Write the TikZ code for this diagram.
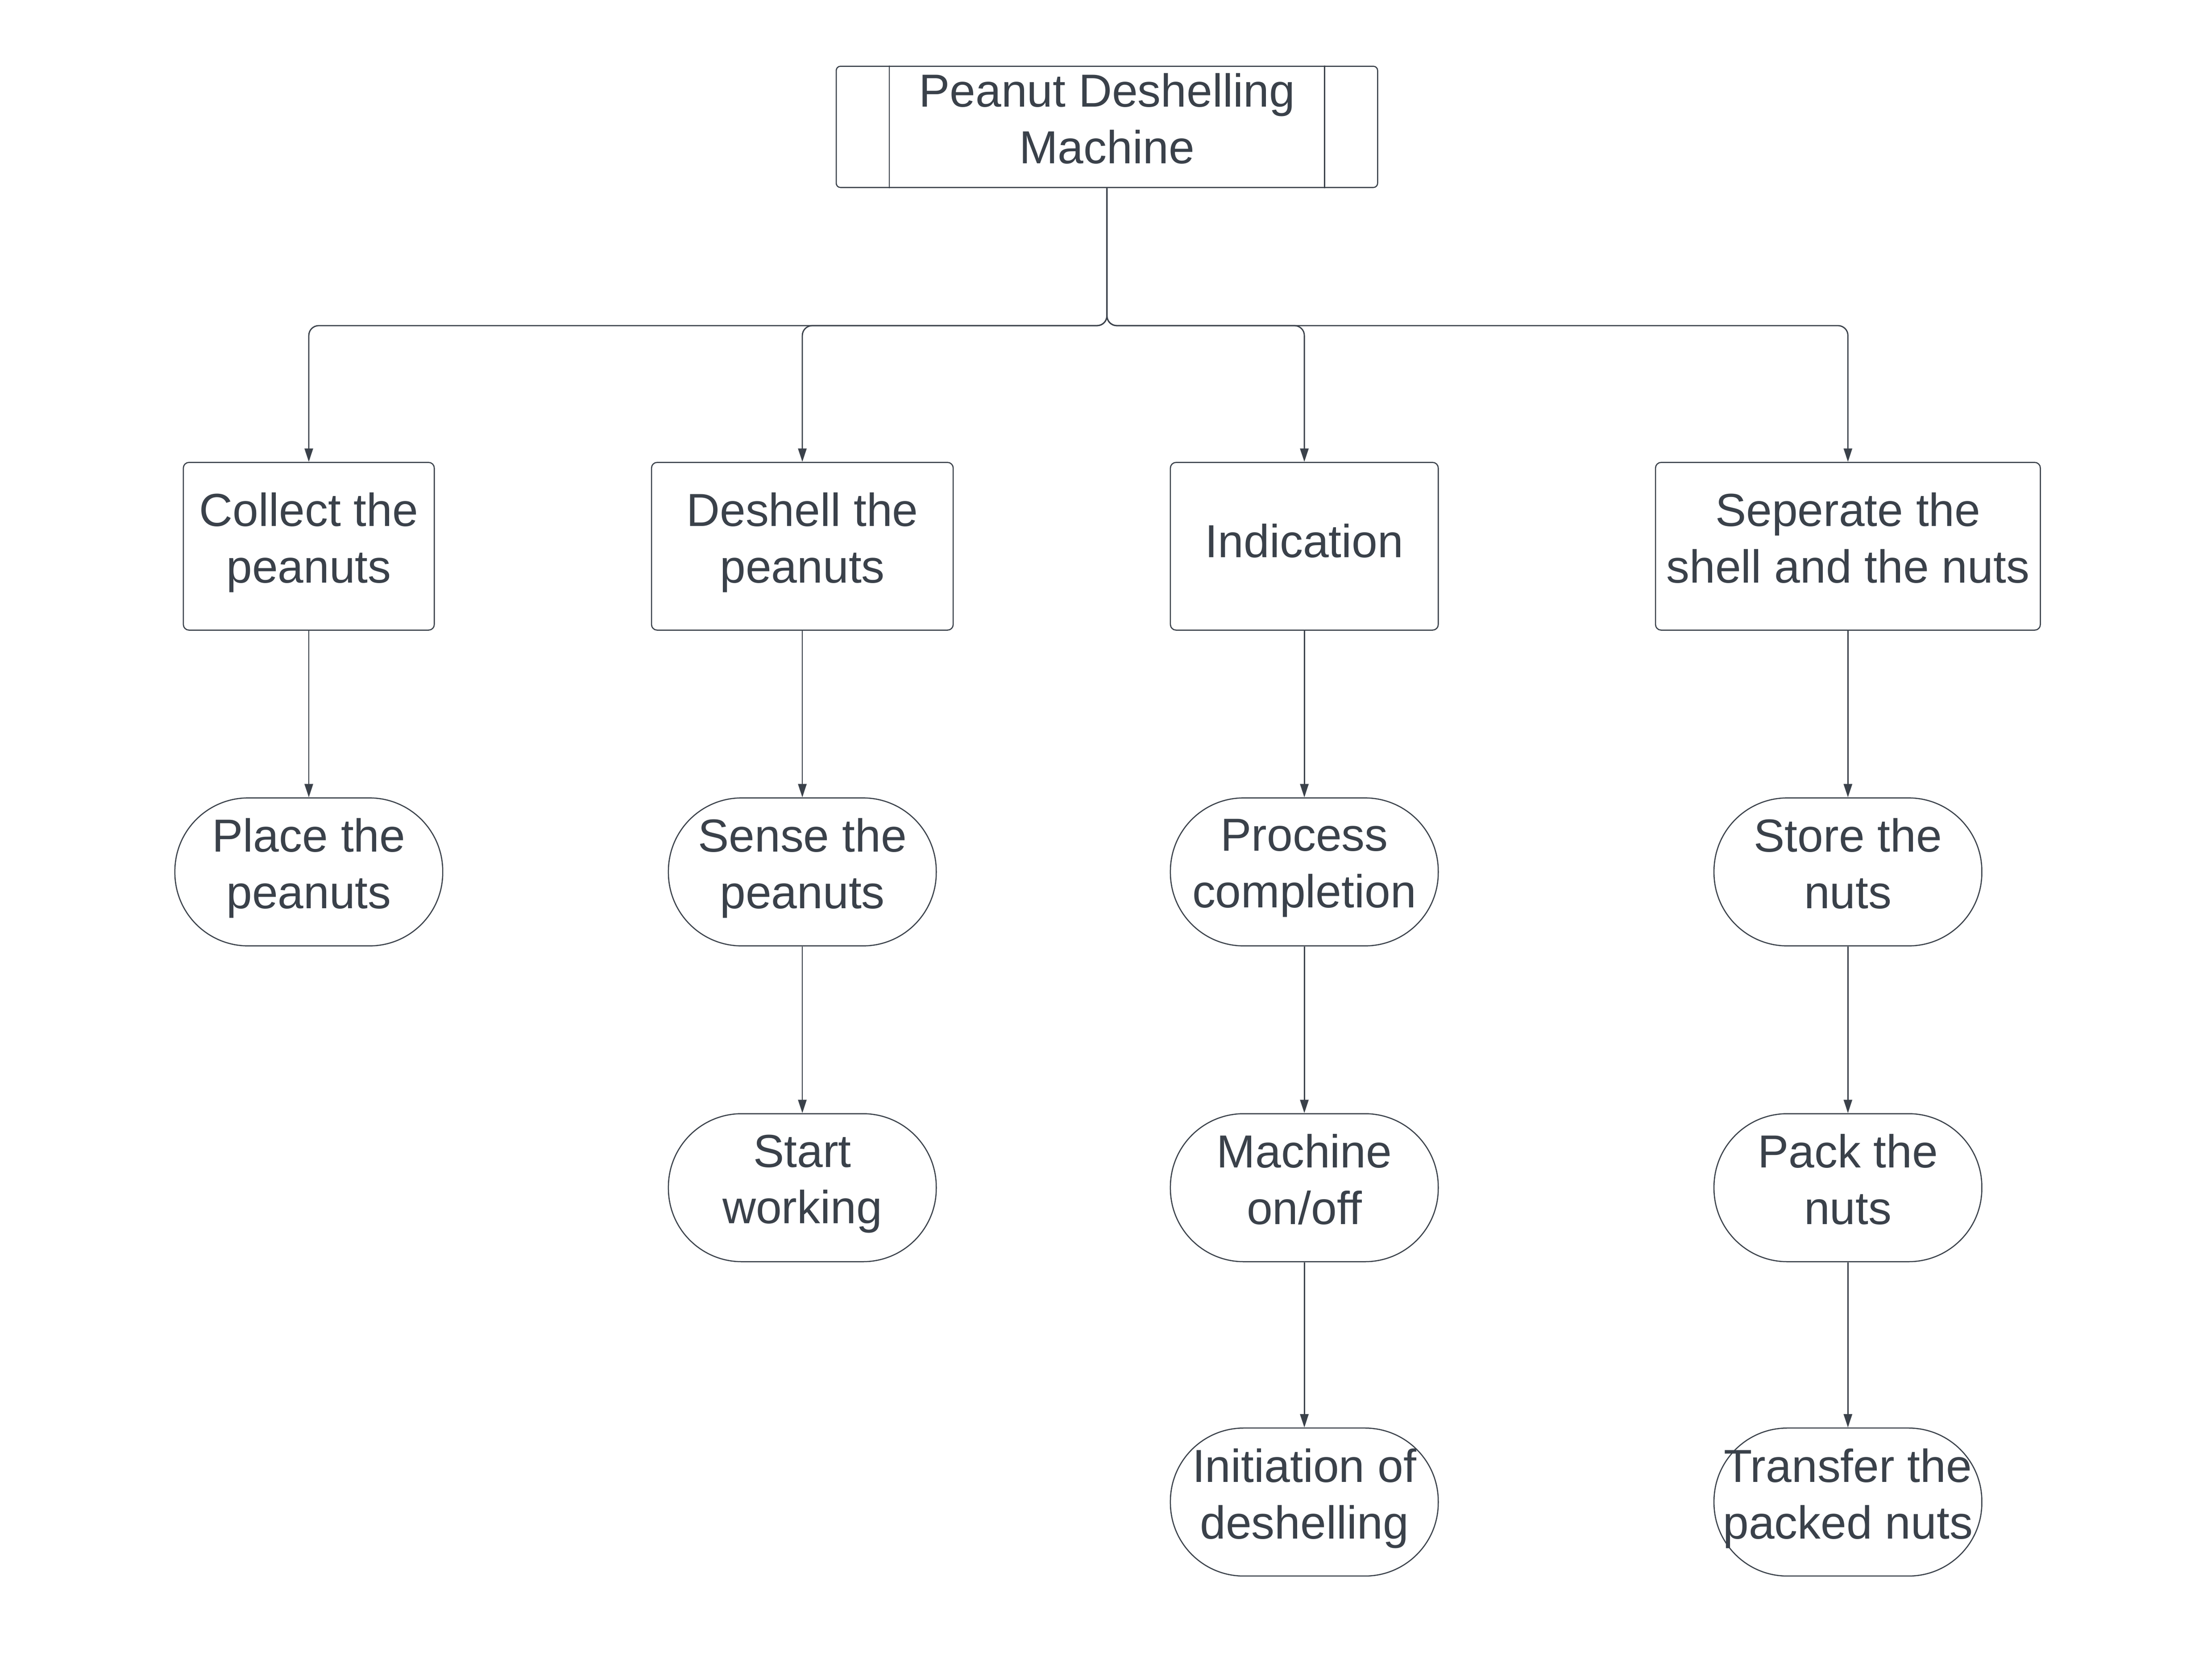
\documentclass[tikz,border=0pt]{standalone}
\usepackage{fontspec}
\setmainfont{Liberation Sans}
\usetikzlibrary{arrows.meta}
\definecolor{ink}{HTML}{3A414A}

\begin{document}
\begin{tikzpicture}[x=0.02cm, y=-0.02cm,
  every node/.style={font=\fontsize{18.7}{22.8}\selectfont, text=ink, align=center, inner sep=0pt,
    execute at begin node=\strut, execute at end node=\strut},
  box/.style={draw=ink, line width=0.45pt, rounded corners=0.08cm, minimum height=2.38cm},
  pill/.style={draw=ink, line width=0.45pt, rounded corners=1.04cm, minimum width=3.8cm, minimum height=2.1cm},
  link/.style={draw=ink, line width=0.5pt, -{Triangle[length=0.19cm, width=0.12cm]}}]
\useasboundingbox (0,0) rectangle (1568,1191.5);

% top
\node [draw=ink, line width=0.45pt, rounded corners=0.06cm, minimum width=7.68cm, minimum height=1.72cm] (top) at (785,90) {Peanut Deshelling\\Machine};
\draw [ink, line width=0.45pt] ([xshift=0.76cm]top.north west) -- ([xshift=0.76cm]top.south west);
\draw [ink, line width=0.45pt] ([xshift=-0.76cm]top.north east) -- ([xshift=-0.76cm]top.south east);

% first level
\node [box, minimum width=3.56cm] (collect) at (219,387.5) {Collect the\\peanuts};
\node [box, minimum width=4.28cm] (deshell) at (569,387.5) {Deshell the\\peanuts};
\node [box, minimum width=3.8cm] (indication) at (925,387.5) {Indication};
\node [box, minimum width=5.46cm] (seperate) at (1310.5,387.5) {Seperate the\\shell and the nuts};

% second level and below
\node [pill] (place) at (219,618.5) {Place the\\peanuts};
\node [pill] (sense) at (569,618.5) {Sense the\\peanuts};
\node [pill] (start) at (569,842.5) {Start\\working};
\node [pill] (process) at (925,618.5) {Process\\completion};
\node [pill] (machine) at (925,842.5) {Machine\\on/off};
\node [pill] (initiation) at (925,1065.5) {Initiation of\\deshelling};
\node [pill] (store) at (1310.5,618.5) {Store the\\nuts};
\node [pill] (pack) at (1310.5,842.5) {Pack the\\nuts};
\node [pill] (transfer) at (1310.5,1065.5) {Transfer the\\packed nuts};

% connectors
\coordinate (split) at (785,231);
\foreach \n in {collect,deshell,indication,seperate}
	\draw [link, rounded corners=0.14cm] (top.south) -- (split) -| (\n.north);
\foreach \a/\b in {collect/place,deshell/sense,sense/start,indication/process,process/machine,machine/initiation,seperate/store,store/pack,pack/transfer}
	\draw [link] (\a) -- (\b);
\end{tikzpicture}
\end{document}
